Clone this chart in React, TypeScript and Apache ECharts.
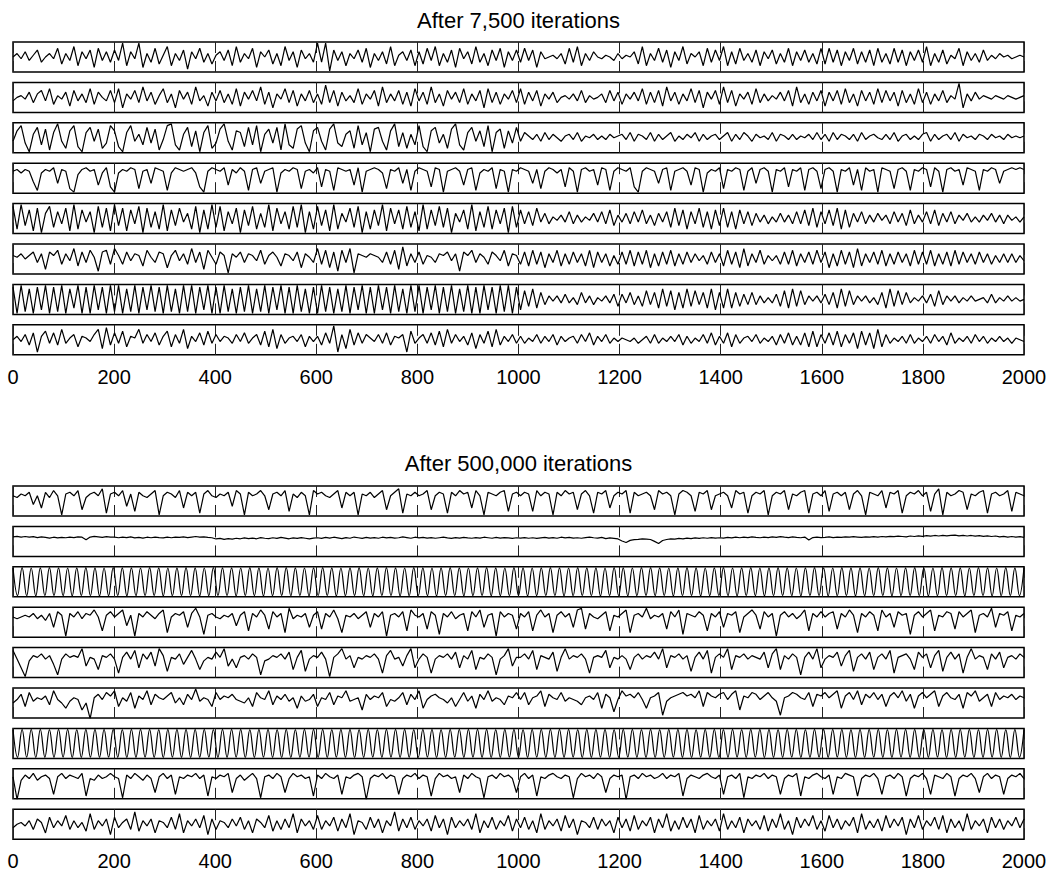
import React, { useEffect, useRef } from "react";
import * as echarts from "echarts";

// ---------- text ----------
const TITLES = ["After 7,500 iterations", "After 500,000 iterations"];
const X_MIN = 0;
const X_MAX = 2000;
const X_INTERVAL = 200;

// ---------- top chart: after 7,500 iterations ----------
const t1 = [
  0,2,-1,3,-2,1,4,-3,0,2,-1,5,-4,2,-2,6,-5,3,-1,4,-6,5,-2,3,-3,
  4,-2,8,-5,3,-1,8,-6,2,-3,5,-4,1,6,-5,2,-2,4,-7,3,-1,5,-3,2,-4,
  1,3,-2,4,-5,6,-3,2,-1,5,-6,3,0,4,-4,2,-5,6,-2,3,-6,4,-1,2,-3,
  8,-3,8,-8,4,-2,3,-5,2,-1,4,-3,5,-6,2,-2,3,-4,6,-5,1,3,-2,4,-5,
  3,-4,5,-2,6,-5,2,-3,4,-6,5,-1,3,-4,6,-3,2,-5,4,-2,5,-6,3,-2,4,
  -3,5,-2,4,-6,3,-1,0,1,-1,2,-4,5,-3,6,-5,2,-2,3,0,-1,1,0,-2,2,
  -1,1,0,3,-4,6,-5,2,-2,5,-3,4,-6,3,-2,6,-4,2,0,3,-5,5,-3,4,-2,
  6,-5,3,-4,5,-2,2,-3,4,-5,3,-1,4,-4,2,-3,5,-5,3,-2,4,-3,2,-4,5,
  -4,5,-3,4,-5,3,-2,5,-4,3,-3,4,-5,5,-3,2,-4,5,-3,4,-5,3,-2,4,-3,
  6,-5,2,-3,4,-4,1,-1,5,-5,3,-2,2,-3,4,-2,1,-1,2,0,1,-1,0,1,0,
];
const t2 = [
  -2,0,1,-1,3,-3,2,4,-2,5,-4,1,-1,3,-5,4,-2,2,-3,5,-4,3,0,-2,4,
  -3,5,-6,2,-1,4,-3,6,-2,3,-4,1,5,-3,2,-6,4,-1,3,-4,6,-2,1,-5,3,
  -2,4,-3,2,-4,5,-5,3,-1,4,-2,6,-4,3,-6,2,-1,5,-3,4,-5,2,-2,4,-3,
  2,-4,7,-3,4,-5,3,-2,1,-3,5,-4,2,-1,4,-5,6,-3,2,-2,4,-4,3,-5,5,
  -2,3,-4,6,-3,2,-5,4,-1,3,-3,5,-4,2,-2,4,-6,5,-3,3,-4,2,-1,4,-3,
  5,-4,3,-2,4,-5,2,-1,3,-3,0,1,-1,2,-2,4,-3,1,-1,0,2,-3,4,-2,3,
  -4,2,-1,3,-2,5,-4,3,-3,4,-5,6,-2,3,-4,2,-2,5,-3,4,-6,3,-1,4,-4,
  6,-3,4,-5,2,-1,3,-4,5,-3,2,-2,1,-1,3,-2,4,-5,6,-3,2,-4,3,-2,4,
  -5,3,-2,4,-4,5,-3,2,-5,4,-2,3,-4,5,-3,4,-2,3,-5,4,-3,2,-4,5,-3,
  3,-4,2,-2,4,-3,1,-1,8,-6,2,-2,3,-1,1,0,-1,1,0,-1,1,0,-1,0,1,
];
const t3 = [
  -2,4,7,-3,-8,2,6,-4,5,-7,3,8,-2,-6,4,7,-5,-8,3,6,-2,5,-6,-3,7,
  4,-5,-8,3,7,-2,2,-4,6,-3,5,-7,-1,7,8,-4,-7,2,6,-5,4,-8,3,7,-6,
  -3,5,8,-2,-7,4,3,-5,6,-4,7,-8,2,5,-3,6,-7,8,-4,-6,5,7,-3,-8,4,
  6,-2,-7,5,8,-3,-5,2,4,-6,7,-4,3,-8,5,6,-2,-7,4,8,-5,3,-6,2,-4,
  7,-5,-8,4,6,-3,2,-6,5,8,-4,-7,3,6,-2,4,-5,7,-8,3,5,-6,4,-3,6,
  -2,3,1,-1,2,-2,3,-1,2,0,-2,1,2,-1,3,-2,1,0,2,-1,1,-1,2,0,1,
  2,-1,3,-2,2,1,-1,3,-2,2,-1,1,3,-2,1,-1,2,0,3,-2,2,-1,1,2,-1,
  1,3,-2,2,-1,3,1,-2,2,0,1,-1,3,-2,2,1,-1,2,-1,1,0,2,-1,3,-1,
  2,-2,3,-1,2,1,-1,2,-2,3,-1,1,2,0,-1,2,-1,3,-2,1,2,-1,1,-1,2,
  3,-2,2,-1,1,2,-1,3,-2,2,0,1,-1,2,1,-1,2,0,1,-1,2,0,1,0,1,
];
const t4 = [
  4,5,3,5,4,-2,-7,3,5,4,6,-3,5,4,-6,-8,2,5,6,4,5,-4,3,6,-5,
  -8,3,5,4,6,5,-6,4,5,-3,6,5,4,-7,3,6,5,4,5,6,3,-5,-8,4,6,
  5,4,6,-4,5,3,6,4,-7,5,6,-3,4,5,6,-8,3,5,4,6,5,-6,4,5,3,
  6,-5,5,4,-7,6,5,4,5,-4,6,-8,4,5,6,5,3,-6,5,4,6,-3,5,-7,4,
  6,5,4,-5,6,5,-8,4,5,6,4,-4,5,6,-7,3,5,4,6,-6,5,4,-8,5,4,
  6,5,4,-3,5,-6,4,6,5,3,5,-5,6,4,-8,5,6,4,5,-4,6,5,-7,4,6,
  5,4,6,-5,-8,4,6,5,4,-3,5,6,-7,4,5,6,4,-4,6,5,-8,3,5,4,6,
  -6,5,4,6,5,-7,4,6,-3,5,6,4,-8,5,4,6,-5,5,4,6,-7,5,6,4,-6,
  5,6,4,-8,5,4,6,-4,5,-7,6,4,5,-8,6,5,4,-6,5,6,4,-7,5,4,6,
  5,-5,6,4,-8,5,6,4,5,-4,6,5,4,-7,5,4,6,5,-3,4,5,6,5,6,5,
];
const t5 = [
  7,-6,8,-4,5,-7,6,-8,3,7,-5,4,-3,6,-7,8,-6,5,-2,4,-8,7,-5,6,-7,
  8,-4,6,-7,5,-3,7,-8,6,-5,4,-6,8,-7,5,-4,6,-2,3,-6,7,-8,5,-6,8,
  -5,7,-7,4,-3,6,-8,5,-4,7,-6,3,-5,8,-7,6,-3,4,-6,7,-5,8,-8,4,-6,
  7,-4,5,-7,8,-6,3,-2,6,-5,7,-8,4,-6,5,-4,8,-7,6,-3,5,-6,7,-5,4,
  -7,8,-6,5,-4,7,-5,6,-8,3,-2,5,-6,8,-7,4,-5,7,-6,5,-3,6,-8,7,-5,
  5,-3,4,-4,6,-2,3,-3,1,-1,2,-2,4,-3,2,-2,1,-1,3,-2,4,-3,5,-4,2,
  -2,3,-3,4,-2,5,-3,2,-4,3,-2,4,-5,6,-4,5,-6,4,-3,6,-5,4,-6,5,-4,
  6,-5,4,-6,5,-3,4,-4,3,-2,2,-3,1,-2,3,-2,2,-3,4,-3,5,-4,6,-5,4,
  -3,5,-4,6,-6,5,-5,3,-2,4,-3,2,-2,3,-1,2,-3,4,-2,3,-4,5,-3,2,-2,
  4,-3,5,-4,3,-2,4,-3,2,-1,3,-2,1,-2,2,-1,3,-2,2,-3,2,-1,1,-2,1,
];
const t6 = [
  2,1,3,0,2,4,-2,3,-6,4,2,5,-3,3,-1,6,-4,4,-2,5,1,-7,4,5,-3,
  6,2,-3,4,-1,3,2,-4,5,1,-2,4,3,-5,2,5,-1,3,-3,6,-2,4,-6,5,1,
  -3,4,2,-8,3,1,4,-2,3,2,-1,5,-3,2,4,1,-4,3,2,-1,4,-5,3,1,-2,
  6,-3,5,-5,4,-7,5,-2,6,-8,3,2,1,3,2,1,-2,4,-3,5,-6,7,-4,3,-2,
  4,-3,2,1,-2,3,2,4,-1,3,-7,4,2,5,-2,3,1,-3,4,2,-1,5,-4,3,2,
  -3,4,-4,5,-3,4,-5,3,-2,5,-4,3,-3,4,-2,3,-4,5,-5,4,-2,3,-4,2,-3,
  4,-3,5,-4,4,-3,5,-5,3,-4,4,-3,5,-4,3,-3,4,-2,3,-1,2,-3,4,-2,3,
  -4,5,-3,4,-5,6,-4,3,-2,5,-3,2,-1,2,-3,4,-3,5,-4,3,-2,4,-3,5,-2,
  4,-5,3,-4,5,-3,4,-5,6,-4,3,-2,4,-3,5,-4,3,-3,4,-2,3,-4,5,-3,4,
  -3,5,-4,3,-3,4,-4,5,-3,4,-2,3,-3,4,-2,3,-3,2,-2,3,-2,3,-2,2,-1,
];
const t7 = [
  7,-8,8,-7,6,-8,7,-6,8,-8,7,-7,8,-8,6,-5,8,-8,7,-8,8,-6,7,-8,8,
  -7,8,-8,6,-7,8,-8,7,-6,8,-7,7,-8,8,-7,6,-8,8,-7,8,-8,7,-6,8,-8,
  7,-8,8,-7,6,-8,7,-7,8,-8,6,-7,8,-8,7,-6,8,-8,7,-8,8,-7,6,-8,7,
  -8,8,-7,7,-8,6,-7,8,-8,7,-6,8,-8,7,-8,8,-6,7,-8,8,-7,6,-8,8,-7,
  8,-8,7,-6,8,-8,7,-7,8,-8,6,-7,8,-8,7,-8,8,-6,7,-8,8,-7,8,-8,7,
  -6,5,-4,6,-5,4,-3,2,-1,2,-2,3,-2,1,-3,4,-2,2,-3,1,-1,2,-2,3,-4,
  3,-2,4,-3,2,-4,5,-3,4,-5,6,-4,5,-6,4,-5,6,-4,5,-3,4,-5,6,-6,4,
  -5,6,-5,4,-4,3,-3,4,-3,2,-2,1,-2,3,-4,5,-5,6,-4,5,-3,2,-1,2,-2,
  3,-3,4,-5,6,-4,5,-3,2,-1,2,-2,1,-3,4,-5,6,-4,5,-3,4,-2,1,-1,2,
  -2,3,-4,5,-3,2,-1,2,-2,1,-1,2,-1,0,1,-2,3,-2,1,-1,2,-1,1,-1,0,
];
const t8 = [
  0,2,-1,3,-3,4,-7,2,5,-2,4,-3,6,-2,1,3,-4,2,1,-1,3,6,-5,7,-3,
  4,-2,5,-4,2,1,6,-2,3,-1,4,-3,2,5,-4,3,-2,6,-5,2,-1,4,-3,5,-2,
  3,-1,2,1,-2,3,-1,4,-2,1,3,-3,5,-4,6,-5,3,-2,1,2,-1,3,-4,2,-1,
  2,-3,4,-2,8,-7,3,-5,6,-3,4,-2,3,1,-1,3,-2,4,-3,2,1,3,-7,5,-2,
  1,3,-2,4,-3,5,-4,6,-2,3,-1,2,-3,4,-5,3,-2,5,-4,6,-3,2,-1,3,-2,
  2,-2,1,-1,3,-2,2,-1,3,-3,2,-1,1,2,-2,3,-1,4,-3,2,-1,3,-2,1,-1,
  1,0,-1,1,-2,0,2,-2,3,-2,1,-1,2,-1,3,-3,2,-2,1,-1,3,-2,4,-3,2,
  -2,4,-4,3,-2,1,2,-1,3,-2,1,-1,2,-3,3,-2,4,-3,2,-3,4,-4,5,-4,3,
  -2,4,-3,5,-4,3,-2,4,-5,5,-3,4,-5,6,-4,3,-2,1,-1,2,-2,3,-2,1,-1,
  2,-2,3,-1,2,-3,4,-2,1,-1,2,-2,3,-1,2,-2,1,-1,2,-1,1,-2,1,0,-1,
];

// ---------- bottom chart: after 500,000 iterations ----------
const b1 = [
  3,2,4,3,5,-2,3,-4,5,2,6,3,-8,4,5,3,6,-5,2,4,5,3,7,-7,4,
  5,3,6,-3,4,-6,5,3,2,4,6,-8,3,5,4,2,6,-4,5,3,5,-7,4,6,3,
  2,4,3,5,-3,6,4,-8,5,3,4,6,3,-5,4,5,3,6,-6,4,2,5,3,-8,6,
  4,5,3,2,4,6,-4,5,3,5,-8,4,3,5,2,4,6,-5,3,5,7,-7,4,3,5,
  3,4,6,-5,3,5,4,-7,5,3,6,4,5,-4,6,3,-8,5,4,3,5,6,-6,4,5,
  3,5,4,-6,6,3,5,4,-8,5,3,6,4,5,-5,4,6,3,-7,5,4,6,-4,3,5,
  4,6,-7,5,3,4,5,3,-5,6,4,5,3,-8,4,6,5,3,-6,5,4,6,-5,3,4,
  5,3,-4,6,4,5,-7,3,5,4,6,-8,3,5,4,6,-5,4,3,5,6,-7,4,5,3,
  6,-6,4,5,3,5,-5,4,6,3,-8,5,4,3,6,-4,5,4,6,-7,3,5,4,6,3,
  5,-6,4,7,-8,5,3,4,6,5,-5,4,3,5,6,-7,4,5,3,4,6,-6,5,4,3,
];
const b2 = [
  2.6,2.9,2.5,2.8,2.4,2.7,2.2,2.6,2.3,1.9,2.4,2.0,2.3,2.1,2.5,2.2,2.6,2.4,0.9,2.5,2.9,2.6,2.3,2.7,2.4,
  2.4,2.1,2.5,2.2,2.6,2.0,2.3,1.9,2.4,2.1,2.5,2.2,2.0,2.4,2.1,2.5,2.3,2.6,2.2,2.5,2.8,2.4,2.6,2.3,2.1,
  1.4,1.7,1.2,1.6,1.3,1.8,1.5,2.0,1.6,1.9,1.5,2.2,1.8,1.6,2.1,1.7,2.3,1.9,1.5,2.0,1.7,2.2,1.8,1.4,1.9,
  2.1,1.7,2.3,1.9,2.4,2.0,1.6,2.2,1.8,2.5,2.1,1.7,2.3,1.9,2.2,1.8,2.4,2.0,2.3,1.9,2.1,2.6,2.2,1.8,2.4,
  2.0,2.3,1.9,2.2,1.8,2.1,2.4,2.0,1.7,2.2,1.9,2.3,2.0,1.8,2.2,1.9,2.4,2.1,1.8,2.3,1.9,2.2,2.0,1.7,2.1,
  1.9,2.2,1.8,2.1,1.7,2.0,2.3,1.9,2.2,1.8,2.4,2.0,2.3,1.9,2.1,1.8,2.2,2.5,2.1,1.9,2.3,1.6,2.0,1.7,1.4,
  0.2,-0.6,0.6,1.0,1.2,1.5,1.3,1.1,0.0,-1.2,0.5,1.1,1.4,1.3,1.7,1.5,1.9,1.6,2.0,1.7,2.1,1.8,2.2,1.9,2.1,
  1.9,2.3,2.0,2.4,2.1,2.5,2.2,2.6,2.3,2.1,2.5,2.2,2.6,2.3,2.7,2.4,2.2,2.6,2.3,2.1,2.5,0.8,2.2,2.5,2.2,
  2.3,2.6,2.2,2.5,2.3,2.6,2.4,2.7,2.5,2.3,2.6,2.4,2.7,2.5,2.8,2.6,2.9,2.7,3.0,2.8,2.6,3.1,2.8,3.2,2.9,
  3.3,3.0,3.4,3.1,3.5,3.2,3.4,3.6,3.2,3.5,3.1,3.4,3.0,3.3,2.9,3.2,2.8,3.1,2.6,2.9,2.5,2.8,2.4,2.7,2.3,
];
const b3 = [
  9.3,-9.2,9.4,-9.3,9.2,-9.4,9.3,-9.3,9.4,-9.2,9.3,-9.3,9.2,-9.4,9.3,-9.2,9.4,-9.3,9.3,-9.4,
  9.2,-9.3,9.4,-9.2,9.3,-9.4,9.3,-9.3,9.2,-9.3,9.4,-9.2,9.3,-9.4,9.2,-9.3,9.3,-9.2,9.4,-9.3,
  9.3,-9.4,9.2,-9.3,9.4,-9.2,9.3,-9.3,9.3,-9.4,9.2,-9.2,9.4,-9.3,9.3,-9.4,9.2,-9.3,9.4,-9.2,
  9.4,-9.3,9.3,-9.2,9.2,-9.4,9.3,-9.3,9.4,-9.2,9.3,-9.4,9.2,-9.3,9.3,-9.2,9.4,-9.3,9.2,-9.4,
  9.3,-9.2,9.4,-9.3,9.3,-9.4,9.2,-9.3,9.4,-9.2,9.3,-9.3,9.2,-9.4,9.3,-9.2,9.4,-9.3,9.3,-9.4,
  9.2,-9.3,9.3,-9.2,9.4,-9.4,9.3,-9.3,9.2,-9.3,9.4,-9.2,9.3,-9.4,9.2,-9.3,9.3,-9.2,9.4,-9.3,
  9.3,-9.4,9.2,-9.3,9.4,-9.2,9.3,-9.3,9.3,-9.4,9.2,-9.2,9.4,-9.3,9.3,-9.4,9.2,-9.3,9.4,-9.2,
  9.4,-9.3,9.3,-9.2,9.2,-9.4,9.3,-9.3,9.4,-9.2,9.3,-9.4,9.2,-9.3,9.3,-9.2,9.4,-9.3,9.2,-9.4,
  9.3,-9.2,9.4,-9.3,9.2,-9.4,9.3,-9.3,9.4,-9.2,9.3,-9.3,9.2,-9.4,9.3,-9.2,9.4,-9.3,9.3,-9.4,
  9.2,-9.3,9.4,-9.2,9.3,-9.4,9.3,-9.3,9.2,-9.3,9.4,-9.2,9.3,-9.4,9.2,-9.3,9.3,-9.2,9.4,-9.3,
  9.3,-9.4,9.2,-9.3,9.4,-9.2,9.3,-9.3,9.3,-9.4,9.2,-9.2,9.4,-9.3,9.3,-9.4,9.2,-9.3,9.4,-9.2,
  9.3,-9.2,9.4,
];
const b4 = [
  3,2,3,4,3,5,2,4,1,5,-3,6,4,-8,5,3,6,2,5,4,7,3,-5,4,6,
  3,5,7,-2,4,-8,5,3,6,4,2,5,7,-6,3,5,4,6,-3,5,8,3,-7,4,5,
  3,2,4,3,5,-2,4,6,-5,5,3,7,4,-4,6,3,5,-6,8,2,4,3,5,-3,4,
  6,-4,5,3,7,2,-6,4,3,5,2,4,6,-3,5,3,6,-8,4,5,3,6,-5,7,4,
  3,5,-4,6,4,-7,5,3,6,2,4,5,-5,6,3,7,-3,4,5,-8,6,3,5,4,-4,
  5,3,6,-5,4,7,3,5,-6,4,6,3,5,-3,7,8,-4,5,3,2,4,6,-5,4,3,
  5,7,-6,4,5,3,8,2,4,3,5,-4,6,3,7,-7,5,4,3,6,4,-5,5,3,6,
  -3,5,4,6,-6,3,5,7,4,-4,6,3,5,-8,4,6,3,5,2,4,7,-5,5,3,6,
  3,5,6,-4,5,3,7,4,-6,5,3,6,4,-5,7,3,5,-3,6,4,5,-7,4,6,3,
  5,7,-5,4,3,6,5,-4,6,3,5,7,-6,4,5,3,8,-3,5,4,6,-5,4,3,5,
];
const b5 = [
  7,2,-3,-8,1,4,3,5,2,4,-1,-7,2,5,3,4,3,8,-2,3,2,-4,4,3,5,
  2,-6,3,6,2,7,-3,5,2,6,-2,8,4,-5,3,2,5,-1,3,7,2,-4,1,3,2,
  6,3,8,-2,2,-3,3,4,2,5,3,-7,1,2,4,3,5,2,6,-4,3,7,-5,2,4,
  3,6,2,-8,3,5,8,2,4,-3,3,2,4,3,5,2,-6,4,7,2,3,-2,4,8,-3,
  2,5,3,-6,2,4,3,5,2,6,-3,4,2,7,-4,3,2,5,3,-7,2,4,8,-2,3,
  3,5,2,7,-4,4,3,2,6,-5,3,8,2,4,3,5,2,-6,3,4,3,7,-3,3,2,
  4,2,-4,3,5,2,4,3,6,2,8,-3,4,3,5,2,4,-5,3,6,2,7,-6,3,5,
  3,8,-4,4,3,5,2,4,3,2,6,-3,5,8,-4,4,2,5,3,-7,3,6,2,8,-3,
  2,4,3,6,-2,4,7,-5,3,5,2,6,-4,3,5,2,7,-6,3,4,5,2,-4,6,3,
  5,-3,4,7,-5,3,6,2,5,-6,3,8,2,4,3,-4,5,2,6,-3,3,4,2,5,3,
];
const b6 = [
  0,2,5,-2,6,1,3,2,4,-1,7,2,0,-3,1,3,2,-4,0,-9,3,5,2,6,4,
  7,-2,3,1,6,-3,4,2,7,-1,5,3,2,4,6,0,3,-1,5,2,8,1,3,2,-2,
  6,2,4,3,5,2,1,0,3,-2,6,3,2,7,-1,4,2,5,1,3,-3,4,1,2,5,
  -2,3,2,6,-1,4,3,7,1,2,3,-4,5,2,4,3,6,-2,2,1,3,6,-1,5,2,
  7,-3,2,4,5,3,2,0,3,-2,2,6,1,4,-3,5,2,7,1,3,2,-1,4,3,6,
  2,6,-1,3,4,7,-2,5,3,2,6,1,3,2,1,-1,3,4,2,6,-3,5,3,-5,2,
  7,4,5,3,6,2,-3,3,4,6,-7,1,3,4,5,6,4,5,3,7,-2,6,4,3,5,
  6,2,5,7,-4,4,3,6,5,2,4,6,3,1,-7,3,4,6,5,3,2,6,-2,5,4,
  6,3,5,7,-3,4,6,2,7,-1,5,3,6,2,5,-2,4,6,3,7,1,5,-3,4,6,
  3,5,7,-2,4,6,3,2,5,-3,6,4,7,1,3,5,-2,6,2,4,3,5,2,4,3,
];
const b7 = [
  9.2,-9.3,9.4,-9.2,9.3,-9.4,9.3,-9.3,9.2,-9.3,9.4,-9.2,9.3,-9.4,9.2,-9.3,9.3,-9.2,9.4,-9.3,
  9.3,-9.2,9.4,-9.3,9.2,-9.4,9.3,-9.3,9.4,-9.2,9.3,-9.3,9.2,-9.4,9.3,-9.2,9.4,-9.3,9.3,-9.4,
  9.4,-9.3,9.3,-9.2,9.2,-9.4,9.3,-9.3,9.4,-9.2,9.3,-9.4,9.2,-9.3,9.3,-9.2,9.4,-9.3,9.2,-9.4,
  9.3,-9.4,9.2,-9.3,9.4,-9.2,9.3,-9.3,9.3,-9.4,9.2,-9.2,9.4,-9.3,9.3,-9.4,9.2,-9.3,9.4,-9.2,
  9.2,-9.3,9.3,-9.2,9.4,-9.4,9.3,-9.3,9.2,-9.3,9.4,-9.2,9.3,-9.4,9.2,-9.3,9.3,-9.2,9.4,-9.3,
  9.3,-9.2,9.4,-9.3,9.3,-9.4,9.2,-9.3,9.4,-9.2,9.3,-9.3,9.2,-9.4,9.3,-9.2,9.4,-9.3,9.3,-9.4,
  9.4,-9.3,9.3,-9.2,9.2,-9.4,9.3,-9.3,9.4,-9.2,9.3,-9.4,9.2,-9.3,9.3,-9.2,9.4,-9.3,9.2,-9.4,
  9.3,-9.4,9.2,-9.3,9.4,-9.2,9.3,-9.3,9.3,-9.4,9.2,-9.2,9.4,-9.3,9.3,-9.4,9.2,-9.3,9.4,-9.2,
  9.2,-9.3,9.4,-9.2,9.3,-9.4,9.3,-9.3,9.2,-9.3,9.4,-9.2,9.3,-9.4,9.2,-9.3,9.3,-9.2,9.4,-9.3,
  9.3,-9.2,9.4,-9.3,9.2,-9.4,9.3,-9.3,9.4,-9.2,9.3,-9.3,9.2,-9.4,9.3,-9.2,9.4,-9.3,9.3,-9.4,
  9.4,-9.3,9.3,-9.2,9.2,-9.4,9.3,-9.3,9.4,-9.2,9.3,-9.4,9.2,-9.3,9.3,-9.2,9.4,-9.3,9.2,-9.4,
  9.3,-9.3,9.2,
];
const b8 = [
  4,-9,2,5,3,6,2,4,5,3,-6,4,6,3,5,4,3,6,-7,3,2,5,3,4,6,
  4,3,-8,5,3,6,4,2,5,3,-5,4,6,3,5,-6,4,3,5,4,6,3,5,-7,4,
  3,5,4,6,-5,3,5,2,4,6,3,-8,4,5,3,6,4,-5,3,6,4,5,3,4,-7,
  5,3,6,4,3,5,-6,4,3,5,6,4,-9,3,5,4,6,3,5,4,-6,3,5,4,6,
  3,5,4,-7,3,6,4,5,3,4,-5,5,3,6,4,3,-8,4,5,3,6,4,5,3,-5,
  4,6,3,5,-7,4,3,5,6,4,3,5,4,-8,3,6,4,5,3,6,4,-5,3,5,4,
  5,-9,4,5,3,6,4,5,3,4,6,3,5,4,6,-7,3,5,4,3,5,6,4,3,5,
  -6,4,5,3,6,-8,4,3,5,4,6,3,5,4,-6,3,5,4,6,-7,4,3,5,6,4,
  3,5,-6,4,3,6,5,4,-7,3,5,4,6,3,-6,4,5,3,6,4,-7,3,5,4,6,
  3,-6,5,4,3,6,4,-7,3,5,4,6,3,-5,4,6,3,5,4,-6,3,5,4,6,3,
];
const b9 = [
  -2,0,1,-1,2,-3,3,1,-5,4,-2,2,-1,5,-3,2,-2,1,-4,6,-3,2,-1,3,-6,
  4,-2,1,3,-3,7,-4,2,-1,3,-5,2,1,-2,4,-3,6,-5,2,-1,3,-2,5,-6,3,
  -3,2,1,-2,3,-1,4,-3,2,-5,3,1,-2,5,-4,2,-3,3,-2,6,-5,3,-1,2,-3,
  5,-3,2,-1,4,-4,3,-2,6,-6,2,1,-3,4,-2,3,-5,2,-1,7,-4,3,-2,4,-3,
  2,-1,3,-4,5,-2,3,-6,4,-2,2,-1,3,-3,6,-5,2,-2,4,-3,2,-1,5,-4,3,
  -2,4,-3,2,-5,6,-3,2,-1,3,-4,5,-2,3,-6,2,1,-2,4,-3,3,-1,2,-5,4,
  -2,3,-4,5,-3,2,-1,4,-5,3,-2,6,-4,2,-3,4,-2,3,-5,5,-3,2,-1,3,-4,
  6,-3,2,-2,4,-5,3,-1,2,-3,5,-4,3,-2,6,-3,2,-6,4,-2,3,-1,5,-3,2,
  -4,5,-2,3,-3,2,-1,4,-5,6,-3,2,-2,3,-4,5,-2,3,-1,4,-6,3,-2,5,-3,
  2,-1,4,-3,5,-5,3,-2,2,-4,6,-3,2,-1,3,-5,4,-2,3,-3,2,-1,4,-2,3,
];

const TOP_PANELS = [t1, t2, t3, t4, t5, t6, t7, t8];
const BOTTOM_PANELS = [b1, b2, b3, b4, b5, b6, b7, b8, b9];
const PERIODIC = [b3, b7];

// ---------- layout ----------
const PLOT_LEFT = 13;
const PLOT_WIDTH = 1011;
const PANEL_H = 30;
const PITCH = 40.4;
const CHART_TOPS = [42, 486];
const TITLE_Y = [20, 463];
const FONT = '"Liberation Sans", Arial, Helvetica, sans-serif';

export default function App() {
  const ref = useRef<HTMLDivElement>(null);
  useEffect(() => {
    if (!ref.current) return;
    const chart = echarts.init(ref.current, null, { renderer: "svg" });
    const grids: any[] = [];
    const xAxes: any[] = [];
    const yAxes: any[] = [];
    const series: any[] = [];
    [TOP_PANELS, BOTTOM_PANELS].forEach((panels, c) => {
      panels.forEach((vals, k) => {
        const idx = grids.length;
        const last = k === panels.length - 1;
        const periodic = PERIODIC.includes(vals);
        grids.push({
          left: PLOT_LEFT,
          width: PLOT_WIDTH,
          top: CHART_TOPS[c] + k * PITCH,
          height: PANEL_H,
          show: true,
          borderColor: "#000",
          borderWidth: 1.5,
          backgroundColor: "transparent",
        });
        xAxes.push({
          type: "value",
          gridIndex: idx,
          min: X_MIN,
          max: X_MAX,
          interval: X_INTERVAL,
          axisLine: { show: false },
          axisTick: { show: false },
          axisLabel: {
            show: last,
            fontSize: 20,
            fontWeight: "normal",
            color: "#000",
            fontFamily: FONT,
            margin: 12,
            showMinLabel: true,
            showMaxLabel: true,
            formatter: (v: number) => String(v),
          },
          splitLine: {
            show: true,
            lineStyle: { color: "#222", width: 1, type: [11, 8] },
          },
        });
        yAxes.push({
          type: "value",
          gridIndex: idx,
          min: periodic ? -10 : -8.6,
          max: periodic ? 10 : 8.6,
          show: false,
        });
        const n = vals.length;
        series.push({
          type: "line",
          xAxisIndex: idx,
          yAxisIndex: idx,
          data: vals.map((v, i) => [X_MIN + (i * (X_MAX - X_MIN)) / (n - 1), v]),
          showSymbol: false,
          symbol: "none",
          smooth: periodic ? 0.4 : false,
          lineStyle: { color: "#000", width: 1.2 },
          silent: true,
        });
      });
    });
    const graphic = TITLES.map((t, c) => ({
      type: "text",
      x: PLOT_LEFT + PLOT_WIDTH / 2,
      y: TITLE_Y[c],
      style: {
        text: t,
        fill: "#000",
        font: `22px ${FONT}`,
        textAlign: "center",
        textVerticalAlign: "middle",
        align: "center",
        verticalAlign: "middle",
      },
    }));
    chart.setOption({
      animation: false,
      backgroundColor: "#fff",
      grid: grids,
      xAxis: xAxes,
      yAxis: yAxes,
      series,
      graphic,
    });
    return () => chart.dispose();
  }, []);
  return (
    <div
      ref={ref}
      style={{ position: "fixed", left: 0, top: 0, width: 1056, height: 872, background: "#fff" }}
    />
  );
}
